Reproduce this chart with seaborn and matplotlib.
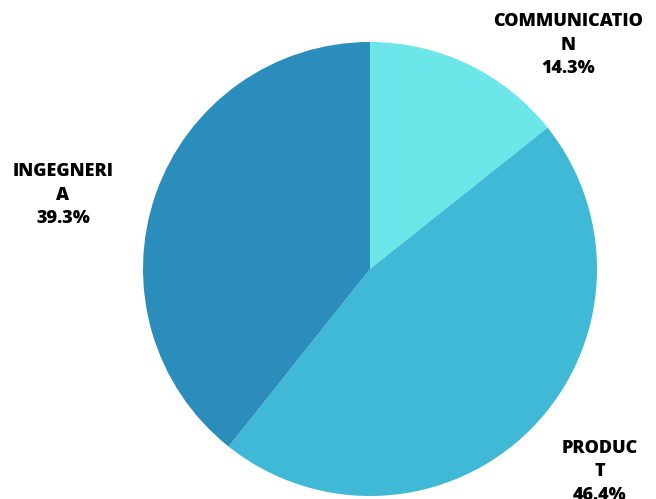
import matplotlib
matplotlib.use("Agg")
import matplotlib.pyplot as plt
import seaborn as sns

# Team split by department
departments = ["COMMUNICATIO\nN", "PRODUC\nT", "INGEGNERI\nA"]
shares = [14.3, 46.4, 39.3]
colors = ["#6de6ea", "#3fb9d6", "#2a8dbb"]

sns.set_theme(style="white")
plt.rcParams["font.family"] = ["Open Sans", "DejaVu Sans"]

W, H = 656, 499
fig = plt.figure(figsize=(W / 100, H / 100), dpi=100)
ax = fig.add_axes([0, 0, 1, 1])

cx, cy, r = 370, H - 269, 227
ax.pie(shares, colors=colors, startangle=90, counterclock=False,
       center=(cx, cy), radius=r, frame=True,
       wedgeprops=dict(linewidth=0))
ax.set_xlim(0, W)
ax.set_ylim(0, H)
ax.axis("off")

# label anchor points (pixel coords from top-left)
label_pos = [(568, 45), (600, 472), (63, 195)]
for name, val, (x, y) in zip(departments, shares, label_pos):
    ax.text(x, H - y, f"{name}\n{val:.1f}%", ha="center", va="center",
            fontsize=13, fontweight=800, color="black", linespacing=1.5)

fig.savefig("out.png", dpi=100)
